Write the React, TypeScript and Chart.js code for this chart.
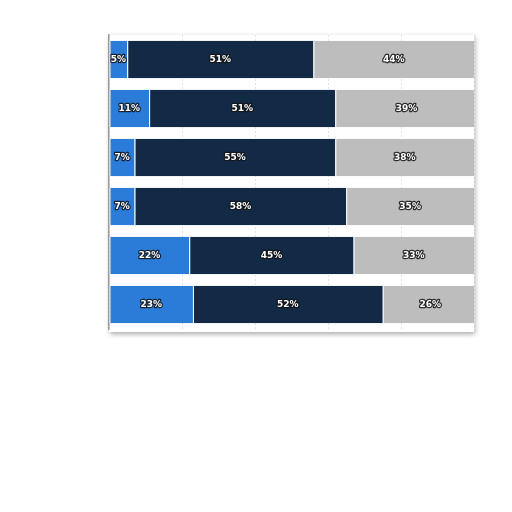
import React, { useRef, useEffect } from "react";
import { Chart, registerables, Plugin } from "chart.js";

Chart.register(...registerables);

const rows = ["A", "B", "C", "D", "E", "F"];
const blueValues = [5, 11, 7, 7, 22, 23];
const navyValues = [51, 51, 55, 58, 45, 52];
const greyValues = [44, 39, 38, 35, 33, 26];

// white panel with a soft drop shadow behind the plot
const panelShadow: Plugin<"bar"> = {
  id: "panelShadow",
  beforeDraw(chart) {
    const { ctx, chartArea } = chart;
    ctx.save();
    ctx.shadowColor = "rgba(0,0,0,0.35)";
    ctx.shadowBlur = 5;
    ctx.shadowOffsetX = 1;
    ctx.shadowOffsetY = 2;
    ctx.fillStyle = "#ffffff";
    ctx.fillRect(chartArea.left, chartArea.top, chartArea.width, chartArea.height + 3);
    ctx.restore();
  },
};

// outlined percentage labels centred in each segment
const segmentLabels: Plugin<"bar"> = {
  id: "segmentLabels",
  afterDatasetsDraw(chart) {
    const { ctx } = chart;
    ctx.save();
    ctx.font = "bold 9px 'DejaVu Sans', sans-serif";
    ctx.textAlign = "center";
    ctx.textBaseline = "middle";
    ctx.lineJoin = "round";
    chart.data.datasets.forEach((ds, i) => {
      const meta = chart.getDatasetMeta(i);
      meta.data.forEach((bar: any, j) => {
        const v = ds.data[j] as number;
        const { x, base, y } = bar.getProps(["x", "base", "y"], true);
        const cx = (x + base) / 2;
        const text = v + "%";
        ctx.lineWidth = 2.5;
        ctx.strokeStyle = "rgba(20,20,20,0.85)";
        ctx.strokeText(text, cx, y);
        ctx.fillStyle = "#ffffff";
        ctx.fillText(text, cx, y);
      });
    });
    ctx.restore();
  },
};

const App: React.FC = () => {
  const chartRef = useRef<HTMLCanvasElement>(null);
  const chartInstanceRef = useRef<Chart | null>(null);

  useEffect(() => {
    const ctx = chartRef.current?.getContext("2d");
    if (!ctx) return;

    if (chartInstanceRef.current) {
      chartInstanceRef.current.destroy();
    }

    chartInstanceRef.current = new Chart(ctx, {
      type: "bar",
      data: {
        labels: rows,
        datasets: [
          { label: "Blue", data: blueValues, backgroundColor: "#2b7bd9" },
          { label: "Navy", data: navyValues, backgroundColor: "#132a46" },
          { label: "Grey", data: greyValues, backgroundColor: "#bdbdbd" },
        ].map((d) => ({
          ...d,
          borderColor: "#ffffff",
          borderWidth: { left: 1, right: 0, top: 0, bottom: 0 },
          borderSkipped: false as const,
          barPercentage: 0.85,
          categoryPercentage: 0.9,
        })),
      },
      options: {
        indexAxis: "y",
        responsive: true,
        maintainAspectRatio: false,
        animation: false,
        layout: { padding: { left: 109, top: 35, right: 38, bottom: 183 } },
        plugins: {
          legend: { display: false },
          tooltip: { enabled: false },
        },
        scales: {
          x: {
            stacked: true,
            min: 0,
            max: 100,
            ticks: { display: false, stepSize: 20 },
            grid: { color: "#e4e4e4", drawTicks: false, lineWidth: 1 },
            border: { display: false, dash: [2, 2] },
          },
          y: {
            stacked: true,
            ticks: { display: false },
            grid: { display: false, drawTicks: false },
            border: { display: true, color: "#9a9a9a", width: 1.5 },
          },
        },
      },
      plugins: [panelShadow, segmentLabels],
    });

    return () => {
      if (chartInstanceRef.current) {
        chartInstanceRef.current.destroy();
        chartInstanceRef.current = null;
      }
    };
  }, []);

  return (
    <div style={{ position: "absolute", left: 0, top: 0, width: 512, height: 512, background: "#fff" }}>
      <canvas ref={chartRef} />
    </div>
  );
};

export default App;
